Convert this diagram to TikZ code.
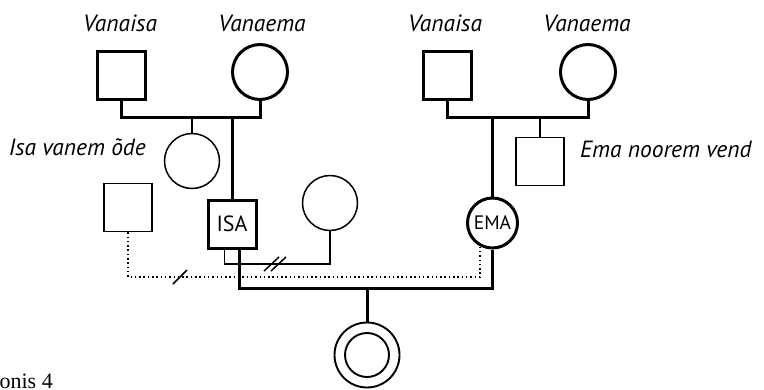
\documentclass[tikz,border=0pt]{standalone}
\usepackage{fontspec}
\setmainfont{PT Sans}
\newfontfamily\capfont{Liberation Serif}
\usetikzlibrary{calc}

\begin{document}
\begin{tikzpicture}[x=1pt,y=-1pt,
  thickln/.style={line width=3pt},
  thinln/.style={line width=1.5pt},
  dotln/.style={line width=1.5pt, dash pattern=on 1.5pt off 2.8pt},
  male/.style={draw, rectangle, minimum size=48pt, inner sep=0pt},
  female/.style={draw, circle, minimum size=55pt, inner sep=0pt},
  lbl/.style={font=\fontsize{23.5}{26}\selectfont\itshape, inner sep=0pt},
  idtext/.style={font=\fontsize{22}{24}\selectfont},
]
\useasboundingbox (0,0) rectangle (764,389);

% --- father's side -------------------------------------------------
\node[male, thickln]   (gf1) at (121,75) {};
\node[female, thickln] (gm1) at (260,72) {};
\node[lbl, anchor=base] (gf1l) at (120,31) {Vanaisa};
\node[lbl, anchor=base] (gm1l) at (262,31) {Vanaema};
\coordinate (u1) at (190,117);
\draw[thickln] (gf1.south) |- (u1) -| (gm1.south);

\node[female, thinln] (aunt) at (192,161) {};
\node[lbl, anchor=base east] (auntl) at (146,155) {Isa vanem õde};
\draw[thinln] (aunt.north) -- (aunt.north |- u1);

\node[male, thickln, idtext] (isa) at (232,224) {ISA};
\draw[thickln] (isa.north) -- (isa.north |- u1);

% --- mother's side -------------------------------------------------
\node[male, thickln]   (gf2) at (447.5,75) {};
\node[female, thickln] (gm2) at (588,72) {};
\node[lbl, anchor=base] (gf2l) at (445,31) {Vanaisa};
\node[lbl, anchor=base] (gm2l) at (587,31) {Vanaema};
\coordinate (u2) at (520,117);
\draw[thickln] (gf2.south) |- (u2) -| (gm2.south);

\node[male, thinln, minimum size=48pt] (bro) at (540,161.5) {};
\node[lbl, anchor=base west] (brol) at (580,157) {Ema noorem vend};
\draw[thinln] (bro.north) -- (bro.north |- u2);

\node[female, thickln, font=\fontsize{19.5}{22}\selectfont, minimum size=50pt] (ema) at (492.5,223) {EMA};
\draw[thickln] (ema.north) -- (ema.north |- u2);

% --- other partners ------------------------------------------------
\node[male, thinln] (ex) at (128,207.5) {};
\node[female, thinln] (wife) at (330,203) {};

% former partnership of ISA (divorced)
\coordinate (pj) at (275,264);
\draw[thinln] ($(isa.south)+(-7.5,0)$) |- (pj) -| (wife.south);
\draw[thinln] ($(pj)+(-11,7)$) -- ($(pj)+(4,-7)$);
\draw[thinln] ($(pj)+(-4,7)$) -- ($(pj)+(11,-7)$);

% informal relationship of EMA, separated
\coordinate (dj) at (180,277);
\draw[dotln] (ex.south) |- (dj) -| (ema.-118);
\draw[thinln] ($(dj)+(-7,7)$) -- ($(dj)+(7,-7)$);

% --- ISA and EMA with their child ----------------------------------
\coordinate (mj) at (367,288);
\draw[thickln] ($(isa.south)+(7.5,0)$) |- (mj) -| (ema.south);
\node[draw, circle, line width=1.9pt, minimum size=65pt, inner sep=0pt] (child) at (367,355) {};
\node[draw, circle, line width=1.9pt, minimum size=44pt, inner sep=0pt] (childin) at (367,355) {};
\draw[thickln] (mj) -- (child.north);

% --- caption -------------------------------------------------------
\node[font=\capfont\fontsize{22}{24}\selectfont, anchor=base east, inner sep=0pt] (cap) at (53,388) {Joonis 4};
\end{tikzpicture}
\end{document}
